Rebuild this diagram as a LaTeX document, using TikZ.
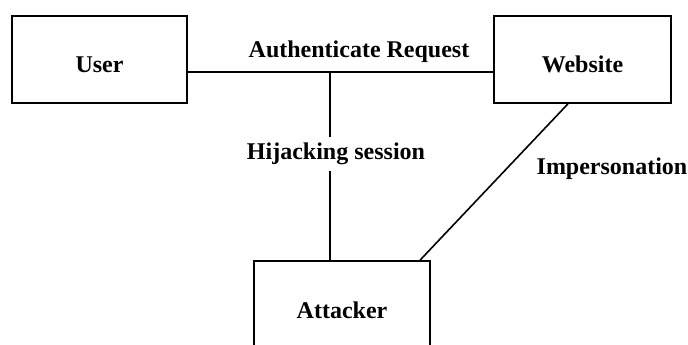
\documentclass[tikz,border=0pt]{standalone}
\usepackage{fontspec}
\setmainfont{Liberation Serif}
\usetikzlibrary{calc}
\begin{document}
\begin{tikzpicture}[x=1pt,y=1pt,
  entity/.style={draw,line width=1.6pt,minimum width=175pt,minimum height=87pt,inner sep=0pt,
    font=\fontsize{24}{28}\selectfont\bfseries,text height=27pt,text depth=0pt},
  lbl/.style={font=\fontsize{24}{28}\selectfont\bfseries,inner sep=2pt},
  conn/.style={line width=1.6pt}]
\useasboundingbox (0,0) rectangle (688,-345);
\clip (0,0) rectangle (688,-345);
\node[entity] (user) at (99.5,-59.5) {User};
\node[entity,minimum width=177pt] (website) at (582.5,-59.5) {Website};
\node[entity,minimum width=176pt] (attacker) at (342,-304.5) {Attacker};
\coordinate (ul) at (user.east |- 0,-72);
\coordinate (wl) at (website.west |- 0,-72);
\coordinate (j) at (330,-72);
\draw[conn] (ul) -- (wl);
\node[lbl] (auth) at (359,-52) {Authenticate Request};
\draw[conn] (j) -- (j |- attacker.north);
\node[lbl,fill=white,inner ysep=6pt] (hij) at (336,-154) {Hijacking session};
\coordinate (ws) at ($(website.south)+(-14.5,0)$);
\coordinate (at) at ($(attacker.north)+(78,0)$);
\draw[conn] (ws) -- (at);
\node[lbl] (imp) at (612,-169) {Impersonation};
\end{tikzpicture}
\end{document}
